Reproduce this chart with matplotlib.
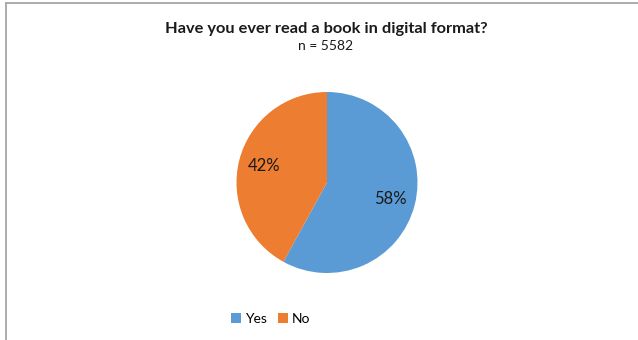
import matplotlib
matplotlib.use("Agg")
import matplotlib.pyplot as plt
from matplotlib.lines import Line2D
from matplotlib.patches import Patch

labels = ["Yes", "No"]
shares = [58, 42]
colors = ["#5B9BD5", "#ED7D31"]
title = "Have you ever read a book in digital format?"
subtitle = "n = 5582"

plt.rcParams["font.family"] = ["Lato", "DejaVu Sans"]

W, H = 638, 340
fig = plt.figure(figsize=(W / 100, H / 100), dpi=100)
fig.patch.set_facecolor("white")

# chart frame: only the top and left edges are visible
fig.add_artist(Line2D([6 / W, 1], [1 - 3 / H, 1 - 3 / H], color="#A6A6A6", lw=1.3))
fig.add_artist(Line2D([6 / W, 6 / W], [1 - 3 / H, 0], color="#A6A6A6", lw=1.3))

fig.text(326 / W, 1 - 29 / H, title, ha="center", va="center",
         fontsize=11.8, fontweight="bold", color="#1a1a1a")
fig.text(326 / W, 1 - 46 / H, subtitle, ha="center", va="center",
         fontsize=10, color="#1a1a1a")

# pie: centre (327, 182.5) px, radius ~90.5 px
ax = fig.add_axes([236.5 / W, 1 - 273 / H, 181 / W, 181 / H])
ax.pie(shares, colors=colors, startangle=90, counterclock=False,
       autopct=lambda p: f"{p:.0f}%", pctdistance=0.72,
       textprops={"fontsize": 12, "color": "#1a1a1a"},
       wedgeprops={"linewidth": 0})
ax.set_xlim(-1, 1)
ax.set_ylim(-1, 1)
ax.set_aspect("equal")
ax.axis("off")

handles = [Patch(facecolor=c, edgecolor="none") for c in colors]
fig.legend(handles, labels, loc="center", bbox_to_anchor=(271 / W, 1 - 319 / H),
           ncol=2, frameon=False, fontsize=10, handlelength=0.7, handleheight=0.7,
           handletextpad=0.3, columnspacing=0.8)

fig.savefig("out.png", dpi=100)
